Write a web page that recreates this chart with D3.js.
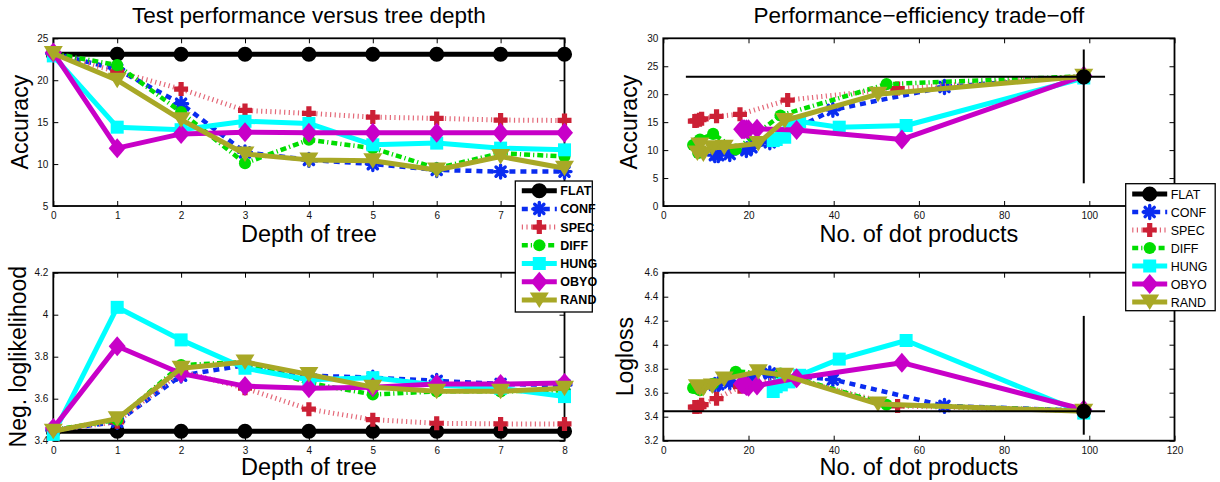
<!DOCTYPE html>
<html><head><meta charset="utf-8">
<script src="https://cdn.jsdelivr.net/npm/d3@7"></script>
<style>body{margin:0;background:#fff}svg{display:block;font-family:"Liberation Sans",Arial,sans-serif}</style>
</head><body><svg id="c" width="1220" height="482"></svg>
<script>
// ---------------- data ----------------
const seriesNames = ["FLAT","CONF","SPEC","DIFF","HUNG","OBYO","RAND"];
const depths = [0,1,2,3,4,5,6,7,8];

// Test accuracy vs depth
const flatAcc = [23.1,23.1,23.1,23.1,23.1,23.1,23.1,23.1,23.1];
const confAcc = [23.2,21.3,17.2,11.4,10.5,10.0,9.3,9.1,9.1];
const specAcc = [23.2,21.0,18.95,16.4,16.05,15.6,15.45,15.25,15.2];
const diffAcc = [23.2,21.8,16.2,10.1,12.9,11.9,9.5,11.3,10.9];
const hungAcc = [22.9,14.4,14.1,15.1,14.85,12.3,12.5,11.9,11.7];
const obyoAcc = [23.3,11.9,13.6,13.8,13.75,13.75,13.75,13.75,13.75];
const randAcc = [23.2,20.0,15.3,11.2,10.5,10.4,9.3,10.9,9.5];

// Negative log-likelihood vs depth
const flatLL = [3.445,3.445,3.445,3.445,3.445,3.445,3.445,3.445,3.445];
const confLL = [3.45,3.49,3.71,3.76,3.71,3.70,3.685,3.67,3.665];
const specLL = [3.45,3.49,3.73,3.65,3.55,3.50,3.483,3.48,3.48];
const diffLL = [3.45,3.50,3.76,3.775,3.675,3.62,3.635,3.635,3.64];
const hungLL = [3.43,4.035,3.88,3.745,3.69,3.70,3.665,3.65,3.61];
const obyoLL = [3.46,3.85,3.72,3.66,3.65,3.655,3.67,3.67,3.675];
const randLL = [3.445,3.505,3.745,3.775,3.715,3.655,3.635,3.635,3.65];

// Number of dot products per depth (x of the trade-off plots)
const flatDots = [98.7];
const confDots = [98.7,66,39.8,25,20.7,19.5,15.6,12.9,12.1];
const specDots = [98.7,55,29.2,18,12.5,9.0,8.5,7.8,7.4];
const diffDots = [98.7,52.4,27.5,17,11.7,8.6,8.2,7.8,7.0];
const hungDots = [98.7,57,41.3,32,29.5,28.5,27.7,26.5,25.8];
const obyoDots = [98.7,56,31.3,22,20,19.5,19,18.7,18.4];
const randDots = [98.7,50.4,28.5,22.3,14.3,11.5,9.4,8.6,8.0];

// FLAT cross-hair extents on the trade-off plots
const flatAccHx = [5.3,103.7], flatAccVy = [4.06,28.0];
const flatLLHx = [0,103.7],   flatLLVy = [3.25,4.24];

// ticks (labels hidden behind the legends are left blank)
const depthTicks = [0,1,2,3,4,5,6,7,8];
const depthTickLabelsTop = ["0","1","2","3","4","5","6","7",""];
const depthTickLabels = ["0","1","2","3","4","5","6","7","8"];
const accTicksL = [5,10,15,20,25];
const accTickLabelsL = ["5","10","15","20","25"];
const llTicksL = [3.4,3.6,3.8,4.0,4.2];
const llTickLabelsL = ["3.4","3.6","3.8","4","4.2"];
const dotTicks = [0,20,40,60,80,100,120];
const dotTickLabelsTop = ["0","20","40","60","80","100",""];
const dotTickLabels = ["0","20","40","60","80","100","120"];
const accTicksR = [0,5,10,15,20,25,30];
const accTickLabelsR = ["0","5","10","15","20","25","30"];
const llTicksR = [3.2,3.4,3.6,3.8,4.0,4.2,4.4,4.6];
const llTickLabelsR = ["3.2","3.4","3.6","3.8","4","4.2","4.4","4.6"];

// ---------------- styles ----------------
const style = {
  FLAT:{color:"#000",width:5,dash:null,mk:"circle",mkColor:"#000"},
  CONF:{color:"#0a2cf0",width:4.5,dash:"6,5",mk:"star",mkColor:"#0a2cf0"},
  SPEC:{color:"#e46878",width:5,dash:"1.2,3.4",mk:"plus",mkColor:"#cc2035"},
  DIFF:{color:"#00dd00",width:4.5,dash:"6,3,1.2,3",mk:"dot",mkColor:"#00dd00"},
  HUNG:{color:"#00ffff",width:5,dash:null,mk:"square",mkColor:"#00ffff"},
  OBYO:{color:"#c800c8",width:5,dash:null,mk:"diamond",mkColor:"#c800c8"},
  RAND:{color:"#a8a826",width:5,dash:null,mk:"tri",mkColor:"#a8a826"}
};
const markerPath = {
  circle:d3.symbol(d3.symbolCircle,180)(),
  dot:d3.symbol(d3.symbolCircle,115)(),
  square:"M-6.5,-6.5H6.5V6.5H-6.5Z",
  diamond:"M0,-10L8.5,0L0,10L-8.5,0Z",
  tri:"M-9.5,-7.5L9.5,-7.5L0,8Z",
  plus:"M-2.6,-7H2.6V-2.6H7V2.6H2.6V7H-2.6V2.6H-7V-2.6H-2.6Z",
  star:"M0,-6.5V6.5M-6.5,0H6.5M-4.6,-4.6L4.6,4.6M-4.6,4.6L4.6,-4.6"
};
function drawMarker(g, mk, color, cx, cy){
  const p = g.append("path").attr("d", markerPath[mk]).attr("transform",`translate(${cx},${cy})`);
  if (mk==="star") p.attr("fill","none").attr("stroke",color).attr("stroke-width",3.4).attr("stroke-linecap","round");
  else p.attr("fill",color).attr("stroke","none");
  return p;
}

const svg = d3.select("#c");
svg.append("rect").attr("width",1220).attr("height",482).attr("fill","#fff");

function makePanel(o){
  const x = d3.scaleLinear().domain(o.xDomain).range([o.left,o.right]);
  const y = d3.scaleLinear().domain(o.yDomain).range([o.bottom,o.top]);
  const g = svg.append("g");
  const ax = g.append("g").attr("font-size",11.5);
  ax.append("g").attr("transform",`translate(0,${o.bottom})`)
    .call(d3.axisBottom(x).tickValues(o.xTicks).tickFormat((d,i)=>o.xLabels[i]).tickSizeInner(-5).tickSizeOuter(0).tickPadding(6));
  ax.append("g").attr("transform",`translate(0,${o.top})`)
    .call(d3.axisTop(x).tickValues(o.xTicks).tickFormat("").tickSizeInner(-5).tickSizeOuter(0));
  ax.append("g").attr("transform",`translate(${o.left},0)`)
    .call(d3.axisLeft(y).tickValues(o.yTicks).tickFormat((d,i)=>o.yLabels[i]).tickSizeInner(-5).tickSizeOuter(0).tickPadding(5));
  ax.append("g").attr("transform",`translate(${o.right},0)`)
    .call(d3.axisRight(y).tickValues(o.yTicks).tickFormat("").tickSizeInner(-5).tickSizeOuter(0));
  ax.selectAll(".domain").remove();
  ax.selectAll("text").attr("fill","#111").attr("font-family","Liberation Sans, Arial, sans-serif");
  ax.selectAll(".tick line").attr("stroke","#000").attr("stroke-width",1);
  g.append("rect").attr("x",o.left).attr("y",o.top).attr("width",o.right-o.left).attr("height",o.bottom-o.top)
    .attr("fill","none").attr("stroke","#000").attr("stroke-width",1.8);
  if (o.title) g.append("text").attr("x",(o.left+o.right)/2).attr("y",o.titleY).attr("text-anchor","middle")
    .attr("font-size",22.5).text(o.title);
  g.append("text").attr("x",(o.left+o.right)/2).attr("y",o.xLabelY).attr("text-anchor","middle")
    .attr("font-size",23.5).text(o.xLabel);
  g.append("text").attr("transform",`translate(${o.yLabelX},${(o.top+o.bottom)/2}) rotate(-90)`).attr("text-anchor","middle")
    .attr("font-size",23).text(o.yLabel);
  return {g,x,y};
}

function drawSeries(p, name, xs, ys){
  const s = style[name];
  const pts = xs.map((d,i)=>[p.x(d),p.y(ys[i])]);
  const path = p.g.append("path").attr("d",d3.line()(pts)).attr("fill","none")
    .attr("stroke",s.color).attr("stroke-width",s.width).attr("stroke-linejoin","round");
  if (s.dash) path.attr("stroke-dasharray",s.dash);
  pts.forEach(pt=>drawMarker(p.g,s.mk,s.mkColor,pt[0],pt[1]));
}

// --- panels
const L = {left:53.3,right:564.5}, R={left:663.3,right:1174.5};
const T = {top:38.3,bottom:206}, B={top:272.7,bottom:440.7};

const pTL = makePanel({...L,...T,xDomain:[0,8],yDomain:[5,25],xTicks:depthTicks,xLabels:depthTickLabelsTop,
  yTicks:accTicksL,yLabels:accTickLabelsL,title:"Test performance versus tree depth",titleY:23,
  xLabel:"Depth of tree",xLabelY:242,yLabel:"Accuracy",yLabelX:28});
const pBL = makePanel({...L,...B,xDomain:[0,8],yDomain:[3.4,4.2],xTicks:depthTicks,xLabels:depthTickLabels,
  yTicks:llTicksL,yLabels:llTickLabelsL,xLabel:"Depth of tree",xLabelY:475,yLabel:"Neg. loglikelihood",yLabelX:26});
const pTR = makePanel({...R,...T,xDomain:[0,120],yDomain:[0,30],xTicks:dotTicks,xLabels:dotTickLabelsTop,
  yTicks:accTicksR,yLabels:accTickLabelsR,title:"Performance\u2212efficiency trade\u2212off",titleY:23,
  xLabel:"No. of dot products",xLabelY:242,yLabel:"Accuracy",yLabelX:637});
const pBR = makePanel({...R,...B,xDomain:[0,120],yDomain:[3.2,4.6],xTicks:dotTicks,xLabels:dotTickLabels,
  yTicks:llTicksR,yLabels:llTickLabelsR,xLabel:"No. of dot products",xLabelY:475,yLabel:"Logloss",yLabelX:633});

const accBy = {FLAT:flatAcc,CONF:confAcc,SPEC:specAcc,DIFF:diffAcc,HUNG:hungAcc,OBYO:obyoAcc,RAND:randAcc};
const llBy = {FLAT:flatLL,CONF:confLL,SPEC:specLL,DIFF:diffLL,HUNG:hungLL,OBYO:obyoLL,RAND:randLL};
const dotsBy = {CONF:confDots,SPEC:specDots,DIFF:diffDots,HUNG:hungDots,OBYO:obyoDots,RAND:randDots};

seriesNames.forEach(n=>{ drawSeries(pTL,n,depths,accBy[n]); drawSeries(pBL,n,depths,llBy[n]); });
seriesNames.slice(1).forEach(n=>{ drawSeries(pTR,n,dotsBy[n],accBy[n]); drawSeries(pBR,n,dotsBy[n],llBy[n]); });

function flatCross(p, hx, vy, yv){
  const cx = p.x(flatDots[0]), cy = p.y(yv);
  p.g.append("line").attr("x1",p.x(hx[0])).attr("x2",p.x(hx[1])).attr("y1",cy).attr("y2",cy).attr("stroke","#000").attr("stroke-width",2);
  p.g.append("line").attr("x1",cx).attr("x2",cx).attr("y1",p.y(vy[0])).attr("y2",p.y(vy[1])).attr("stroke","#000").attr("stroke-width",2);
  drawMarker(p.g,"circle","#000",cx,cy);
}
flatCross(pTR, flatAccHx, flatAccVy, flatAcc[0]);
flatCross(pBR, flatLLHx, flatLLVy, flatLL[0]);

// --- legends
function legend(x0,y0,w,h,rowY0,dy,bold){
  const g = svg.append("g");
  g.append("rect").attr("x",x0).attr("y",y0).attr("width",w).attr("height",h).attr("fill","#fff").attr("stroke","#000").attr("stroke-width",1.3);
  seriesNames.forEach((n,i)=>{
    const s = style[n], yy = rowY0+i*dy, lx0 = x0+6.5, lx1 = x0+41.5;
    const l = g.append("line").attr("x1",lx0).attr("x2",lx1).attr("y1",yy).attr("y2",yy).attr("stroke",s.color).attr("stroke-width",s.width);
    if (s.dash) l.attr("stroke-dasharray",s.dash);
    drawMarker(g,s.mk,s.mkColor,(lx0+lx1)/2,yy);
    g.append("text").attr("x",x0+45).attr("y",yy).attr("dy","0.36em").attr("font-size",12.5)
      .attr("font-weight",bold?"bold":"normal").text(n);
  });
}
legend(515.3,181,77,131,190.7,18.2,true);
legend(1125.7,183.7,89.5,127,194,18,false);
</script></body></html>
